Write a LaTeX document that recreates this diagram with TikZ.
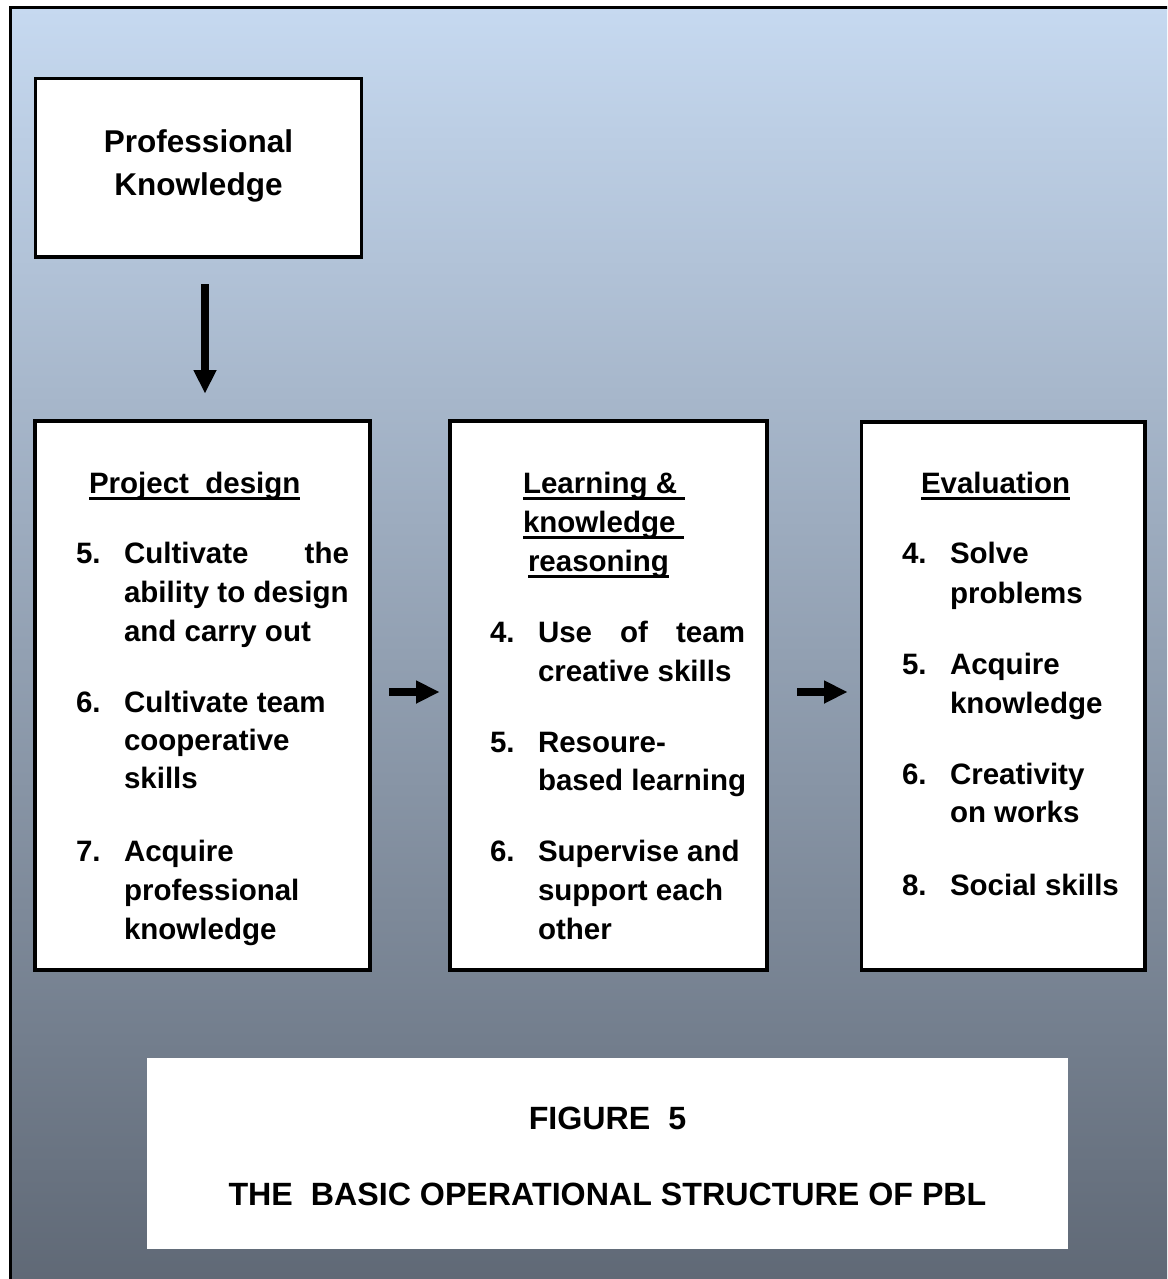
\documentclass[tikz,border=0pt]{standalone}
\usepackage{fontspec}
\setmainfont{Liberation Sans}
\usetikzlibrary{arrows.meta}

\definecolor{bgtop}{RGB}{198,217,240}
\definecolor{bgmid}{RGB}{152,166,188}
\definecolor{bgbot}{RGB}{94,103,116}

% underlined text with a bar that cuts through the descenders
\newcommand\ulbox[1]{\setbox0=\hbox{#1}\rlap{\rule[-7.3pt]{\wd0}{3.6pt}}\box0}

\tikzset{
  box/.style={draw=black, fill=white, line width=3.5pt, inner sep=0pt, outer sep=0pt},
  txt/.style={inner sep=0pt, outer sep=0pt, anchor=base west,
    font=\bfseries\fontsize{29.5pt}{36pt}\selectfont},
  bigtxt/.style={inner sep=0pt, outer sep=0pt, anchor=base,
    font=\bfseries\fontsize{31.5pt}{38pt}\selectfont},
  captxt/.style={inner sep=0pt, outer sep=0pt, anchor=base,
    font=\bfseries\fontsize{32.2pt}{38pt}\selectfont},
  blockarrow/.style={line width=8.5pt,
    -{Triangle[length=23pt,width=23.5pt,line width=0pt]}},
}

\begin{document}
\begin{tikzpicture}[x=1pt,y=-1pt]
\useasboundingbox (0,0) rectangle (1167,1279);
\clip (0,0) rectangle (1167,1279);

% shaded frame
\shade[top color=bgtop, middle color=bgmid, bottom color=bgbot] (10,7.5) rectangle (1190,1300);
\draw[line width=3pt] (10,1300) -- (10,7.5) -- (1190,7.5);

% boxes
\node[box, minimum width=326.2pt, minimum height=178.3pt] (pk) at (198.4,167.85) {};
\node[box, minimum width=335pt, minimum height=549pt] (b1) at (202.5,695.5) {};
\node[box, minimum width=317pt, minimum height=549pt] (b2) at (608.5,695.5) {};
\node[box, minimum width=283.5pt, minimum height=548pt] (b3) at (1003.25,696) {};
\node[fill=white, inner sep=0pt, outer sep=0pt, minimum width=921pt, minimum height=191pt] (cap) at (607.5,1153.5) {};

% top box text
\node[bigtxt] (pk1) at (198.5,152) {Professional};
\node[bigtxt] (pk2) at (198.5,195) {Knowledge};

% project design
\node[txt] (h1) at (89,493) {\ulbox{Project\ \ design}};
\node[txt] (a5) at (76,563) {5.};
\node[txt] (a5a) at (124,563) {\hbox to 225pt{Cultivate\hfill the}};
\node[txt] (a5b) at (124,602) {ability to design};
\node[txt] (a5c) at (124,641) {and carry out};
\node[txt] (a6) at (76,712) {6.};
\node[txt] (a6a) at (124,712) {Cultivate team};
\node[txt] (a6b) at (124,750) {cooperative};
\node[txt] (a6c) at (124,788) {skills};
\node[txt] (a7) at (76,861) {7.};
\node[txt] (a7a) at (124,861) {Acquire};
\node[txt] (a7b) at (124,900) {professional};
\node[txt] (a7c) at (124,939) {knowledge};

% learning & knowledge reasoning
\node[txt] (h2a) at (523,493) {\ulbox{Learning \& }};
\node[txt] (h2b) at (523,532) {\ulbox{knowledge }};
\node[txt] (h2c) at (528,571) {\ulbox{reasoning}};
\node[txt] (c4) at (490,642) {4.};
\node[txt] (c4a) at (538,642) {\hbox to 207pt{Use\hfill of\hfill team}};
\node[txt] (c4b) at (538,681) {creative skills};
\node[txt] (c5) at (490,752) {5.};
\node[txt] (c5a) at (538,752) {Resoure-};
\node[txt] (c5b) at (538,790) {based learning};
\node[txt] (c6) at (490,861) {6.};
\node[txt] (c6a) at (538,861) {Supervise and};
\node[txt] (c6b) at (538,900) {support each};
\node[txt] (c6c) at (538,939) {other};

% evaluation
\node[txt] (h3) at (921,493) {\ulbox{Evaluation}};
\node[txt] (e4) at (902,563) {4.};
\node[txt] (e4a) at (950,563) {Solve};
\node[txt] (e4b) at (950,603) {problems};
\node[txt] (e5) at (902,674) {5.};
\node[txt] (e5a) at (950,674) {Acquire};
\node[txt] (e5b) at (950,713) {knowledge};
\node[txt] (e6) at (902,784) {6.};
\node[txt] (e6a) at (950,784) {Creativity};
\node[txt] (e6b) at (950,822) {on works};
\node[txt] (e8) at (902,895) {8.};
\node[txt] (e8a) at (950,895) {Social skills};

% caption
\node[captxt] (cap1) at (607.5,1129) {FIGURE\ \ 5};
\node[captxt] (cap2) at (607.5,1205) {THE\ \ BASIC OPERATIONAL STRUCTURE OF PBL};

% connectors
\coordinate (row) at (0,692);
\draw[blockarrow, shorten <=27pt, shorten >=28pt]
  ([xshift=6.6pt]pk.south) -- ([xshift=6.6pt]pk.south |- b1.north);
\draw[blockarrow, shorten <=19pt, shorten >=11pt] (b1.east |- row) -- (b2.west |- row);
\draw[blockarrow, shorten <=30pt, shorten >=14.5pt] (b2.east |- row) -- (b3.west |- row);
\end{tikzpicture}
\end{document}
